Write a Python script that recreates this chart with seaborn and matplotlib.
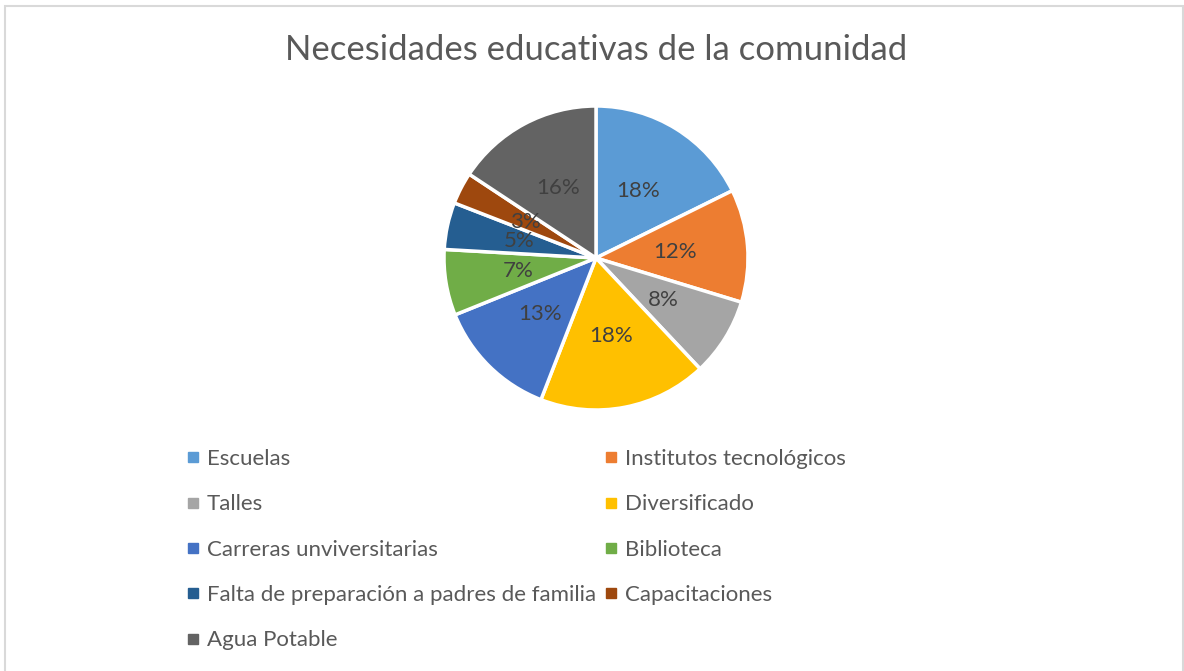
import matplotlib
matplotlib.use('Agg')
import matplotlib.pyplot as plt
from matplotlib.lines import Line2D
from matplotlib.patches import Rectangle
import seaborn as sns

TITLE = 'Necesidades educativas de la comunidad'
CATEGORIES = [
    'Escuelas',
    'Institutos tecnológicos',
    'Talles',
    'Diversificado',
    'Carreras unviversitarias',
    'Biblioteca',
    'Falta de preparación a padres de familia',
    'Capacitaciones',
    'Agua Potable',
]
SHARES = [17.7, 12.0, 8.3, 17.9, 13.0, 7.0, 5.0, 3.4, 15.7]
COLORS = ['#5b9bd5', '#ed7d31', '#a5a5a5', '#ffc000', '#4472c4',
          '#70ad47', '#255e91', '#9e480e', '#636363']

W, H = 1184, 671

sns.set_theme(style='white')
plt.rcParams['font.family'] = ['Lato', 'DejaVu Sans']

fig = plt.figure(figsize=(W / 100, H / 100), dpi=100)
fig.patch.set_facecolor('white')

# chart frame
fig.add_artist(Rectangle((5 / W, -0.01), (W - 6) / W, (H - 6) / H + 0.01,
                         transform=fig.transFigure, fill=False,
                         edgecolor='#d9d9d9', linewidth=1.5))

cx, cy, r = 596, 258, 152
ax = fig.add_axes([(cx - r) / W, (H - cy - r) / H, 2 * r / W, 2 * r / H])
wedges, texts, autotexts = ax.pie(
    SHARES, colors=COLORS, startangle=90, counterclock=False,
    autopct='%.0f%%', pctdistance=0.52,
    wedgeprops=dict(edgecolor='white', linewidth=2.5),
    textprops=dict(color='#404040', fontsize=16),
)
ax.set_xlim(-1, 1)
ax.set_ylim(-1, 1)
ax.set_aspect('equal')
ax.axis('off')

fig.text(cx / W, 1 - 50 / H, TITLE, ha='center', va='center',
         fontsize=25, color='#595959')

# legend is filled column by column, so reorder to read row by row
order = list(range(0, len(CATEGORIES), 2)) + list(range(1, len(CATEGORIES), 2))
handles = [Line2D([], [], marker='s', linestyle='none', markersize=7,
                  markerfacecolor=COLORS[i], markeredgecolor=COLORS[i]) for i in order]
labels = [CATEGORIES[i] for i in order]
fig.legend(handles, labels, ncol=2, loc='upper left',
           bbox_to_anchor=(187 / W, 1 - 449 / H), frameon=False,
           fontsize=16, labelcolor='#595959', handlelength=0.5,
           handletextpad=0.4, columnspacing=0.4, labelspacing=1.14,
           borderaxespad=0, borderpad=0)

fig.savefig('out.png', dpi=100, facecolor='white')
